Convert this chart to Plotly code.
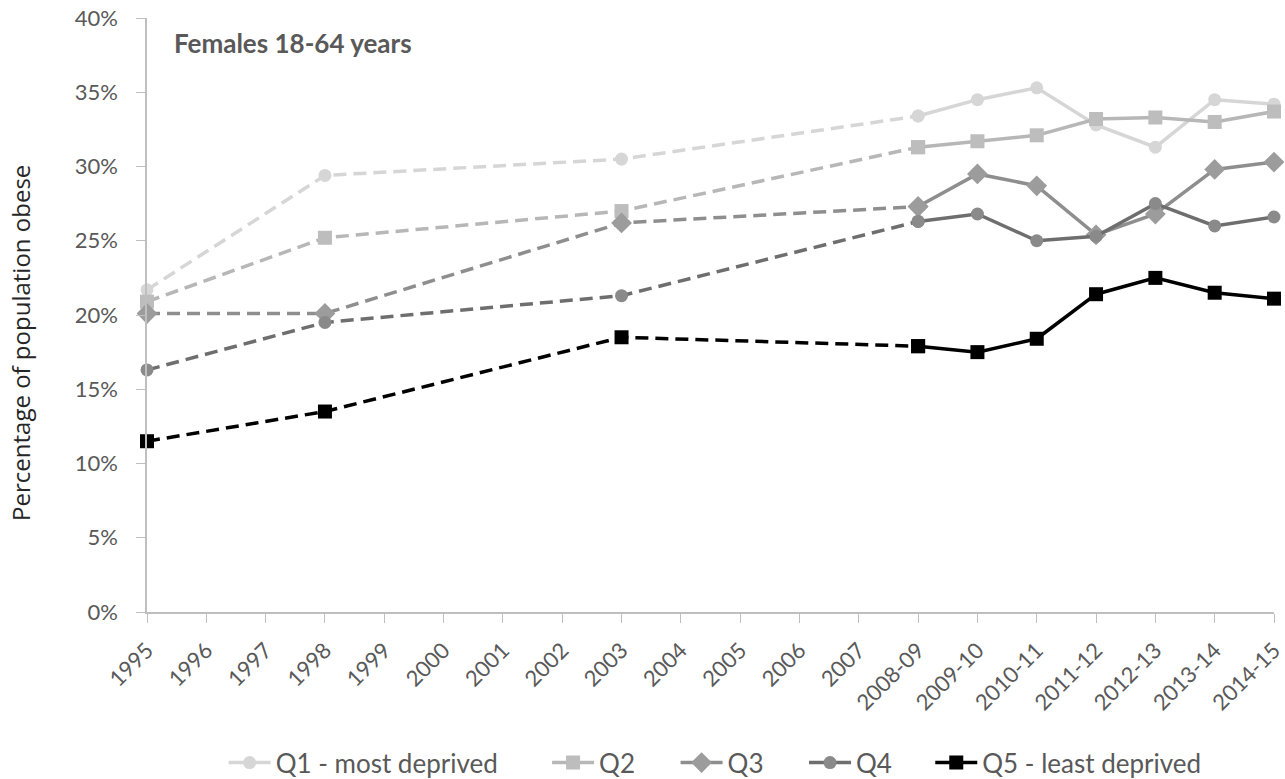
import plotly.graph_objects as go

categories = ["1995", "1996", "1997", "1998", "1999", "2000", "2001", "2002", "2003",
              "2004", "2005", "2006", "2007", "2008-09", "2009-10", "2010-11",
              "2011-12", "2012-13", "2013-14", "2014-15"]

survey_years = ["1995", "1998", "2003", "2008-09", "2009-10", "2010-11",
                "2011-12", "2012-13", "2013-14", "2014-15"]

q1 = [21.7, 29.4, 30.5, 33.4, 34.5, 35.3, 32.8, 31.3, 34.5, 34.2]
q2 = [20.9, 25.2, 27.0, 31.3, 31.7, 32.1, 33.2, 33.3, 33.0, 33.7]
q3 = [20.1, 20.1, 26.2, 27.3, 29.5, 28.7, 25.4, 26.8, 29.8, 30.3]
q4 = [16.3, 19.5, 21.3, 26.3, 26.8, 25.0, 25.3, 27.5, 26.0, 26.6]
q5 = [11.5, 13.5, 18.5, 17.9, 17.5, 18.4, 21.4, 22.5, 21.5, 21.1]

series_names = ["Q1 - most deprived", "Q2", "Q3", "Q4", "Q5 - least deprived"]
series_values = [q1, q2, q3, q4, q5]
line_colors = ["#d6d6d6", "#b7b7b7", "#8e8e8e", "#6e6e6e", "#000000"]
marker_colors = ["#d6d6d6", "#bdbdbd", "#9c9c9c", "#8a8a8a", "#000000"]
symbols = ["circle", "square", "diamond", "circle", "square"]
sizes = [13, 14, 16, 13, 14]
legend_ids = ["legend", "legend2", "legend3", "legend4", "legend5"]
legend_x = [0.068, 0.355, 0.469, 0.583, 0.695]

y_title = "Percentage of population obese"
chart_label = "Females 18-64 years"

n_dashed = 4  # 1995, 1998, 2003, 2008-09 joined by dashed lines

fig = go.Figure()
for name, vals, lc, mc, sym, sz, lg in zip(series_names, series_values, line_colors,
                                           marker_colors, symbols, sizes, legend_ids):
    fig.add_trace(go.Scatter(
        x=survey_years[:n_dashed], y=[v / 100 for v in vals[:n_dashed]],
        mode="lines+markers", name=name, legendgroup=name, showlegend=False,
        line=dict(color=lc, width=3.5, dash="13px,7px"),
        marker=dict(symbol=sym, size=sz, color=mc),
        cliponaxis=False, legend=lg,
    ))
    fig.add_trace(go.Scatter(
        x=survey_years[n_dashed - 1:], y=[v / 100 for v in vals[n_dashed - 1:]],
        mode="lines+markers", name=name, legendgroup=name, showlegend=True,
        line=dict(color=lc, width=3.5),
        marker=dict(symbol=sym, size=sz, color=mc),
        cliponaxis=False, legend=lg,
    ))

font_family = "Lato, 'Open Sans', sans-serif"
legend_style = dict(orientation="h", y=0.021, yanchor="middle", yref="container",
                    xanchor="left", font=dict(size=26, color="#595959"),
                    itemwidth=42, bgcolor="rgba(0,0,0,0)")
layout_legends = {lg: dict(legend_style, x=lx) for lg, lx in zip(legend_ids, legend_x)}

fig.update_layout(
    width=1285, height=779,
    paper_bgcolor="white", plot_bgcolor="white",
    margin=dict(l=147, r=11, t=18, b=167, autoexpand=False),
    font=dict(family=font_family, color="#595959", size=22),
    showlegend=True,
    xaxis=dict(
        type="category", categoryorder="array", categoryarray=categories,
        range=[0, len(categories) - 1], automargin=False,
        showline=True, linecolor="#bfbfbf", linewidth=1.5,
        ticks="outside", ticklen=9, tickcolor="#bfbfbf",
        tickangle=-45, tickfont=dict(size=22, color="#595959"),
        ticklabelstandoff=6,
        showgrid=False, zeroline=False,
    ),
    yaxis=dict(
        range=[0, 0.40], tickvals=[0, 0.05, 0.10, 0.15, 0.20, 0.25, 0.30, 0.35, 0.40],
        tickformat=".0%", showline=True, linecolor="#bfbfbf", linewidth=1.5,
        ticks="outside", ticklen=9, tickcolor="#bfbfbf", automargin=False,
        tickfont=dict(size=22, color="#595959"), ticklabelstandoff=14,
        showgrid=False, zeroline=False,
    ),
    annotations=[
        dict(text="<b>" + chart_label + "</b>", xref="paper", yref="paper",
             x=0.022, y=0.958, xanchor="left", yanchor="middle", showarrow=False,
             font=dict(size=26, color="#595959")),
        dict(text=y_title, xref="paper", yref="paper", textangle=-90,
             x=-0.1118, y=0.453, xanchor="center", yanchor="middle", showarrow=False,
             font=dict(size=24, color="#262626", family="'Open Sans', sans-serif")),
    ],
    **layout_legends,
)

fig.write_html("out.html")
